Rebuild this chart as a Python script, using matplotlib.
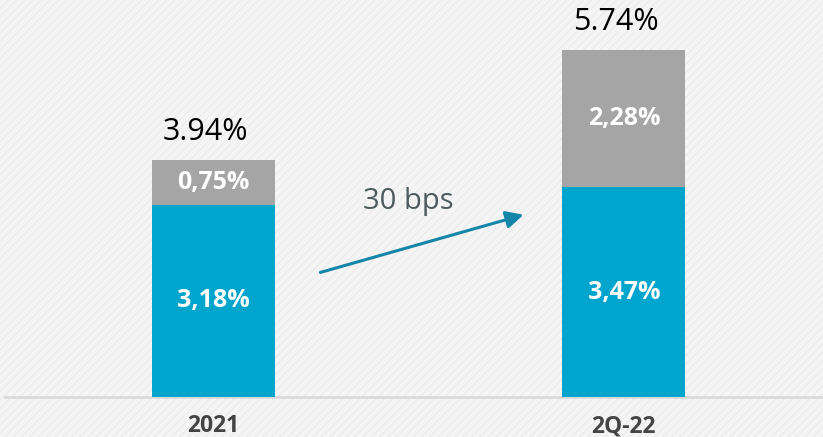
import matplotlib
matplotlib.use("Agg")
from matplotlib import pyplot as plt
from matplotlib.patches import Rectangle

periods = ["2021", "2Q-22"]
base_vals = [3.18, 3.47]
extra_vals = [0.75, 2.28]
base_labels = ["3,18%", "3,47%"]
extra_labels = ["0,75%", "2,28%"]
total_labels = ["3.94%", "5.74%"]
change_label = "30 bps"

BLUE = "#00a5cd"
GRAY = "#a5a5a5"
FONT = ["Open Sans", "DejaVu Sans"]


def main():
    plt.rcParams["hatch.linewidth"] = 1.0
    fig = plt.figure(figsize=(8.23, 4.37), dpi=100)
    fig.patch.set_facecolor("#f5f5f5")

    ax = fig.add_axes([0, 0, 1, 1])
    ax.set_facecolor("none")
    ax.set_xlim(-0.52, 1.485)
    ax.set_ylim(-0.662, 6.573)
    ax.axis("off")
    # faint diagonal stripes behind everything
    ax.add_patch(Rectangle((0, 0), 1, 1, transform=ax.transAxes,
                           facecolor="#f5f5f5", edgecolor="#ececec",
                           hatch="////", linewidth=0, zorder=0))

    x = list(range(len(periods)))
    totals = [b + e for b, e in zip(base_vals, extra_vals)]

    ax.bar(x, base_vals, width=0.3, color=BLUE, zorder=3)
    ax.bar(x, extra_vals, bottom=base_vals, width=0.3, color=GRAY, zorder=3)
    ax.axhline(0, xmin=0.006, xmax=1, color="#dadada", linewidth=2, zorder=2)

    for i in x:
        ax.text(i, base_vals[i] / 2, base_labels[i], ha="center", va="center",
                color="white", fontsize=18, fontweight="bold", family=FONT, zorder=4)
        ax.text(i, base_vals[i] + extra_vals[i] / 2, extra_labels[i], ha="center",
                va="center", color="white", fontsize=18, fontweight="bold",
                family=FONT, zorder=4)
        ax.annotate(total_labels[i], (i, totals[i]), xytext=(-6, 9),
                    textcoords="offset points", ha="center", va="bottom",
                    color="black", fontsize=22, family=FONT, zorder=4)
        ax.annotate(periods[i], (i, 0), xytext=(0, -21), textcoords="offset points",
                    ha="center", va="center", color="#444444", fontsize=16.5,
                    fontweight="bold", family=FONT, zorder=4)

    ax.annotate("", xy=(0.762, 3.03), xytext=(0.254, 2.05),
                arrowprops=dict(arrowstyle="-|>", color="#1585a8", lw=2.2,
                                mutation_scale=26), zorder=5)
    ax.text(0.475, 3.0, change_label, ha="center", va="bottom", color="#4d5a5e",
            fontsize=21, family=FONT, zorder=4)

    fig.savefig("out.png", dpi=100, facecolor=fig.get_facecolor())
    plt.close(fig)


if __name__ == "__main__":
    main()
